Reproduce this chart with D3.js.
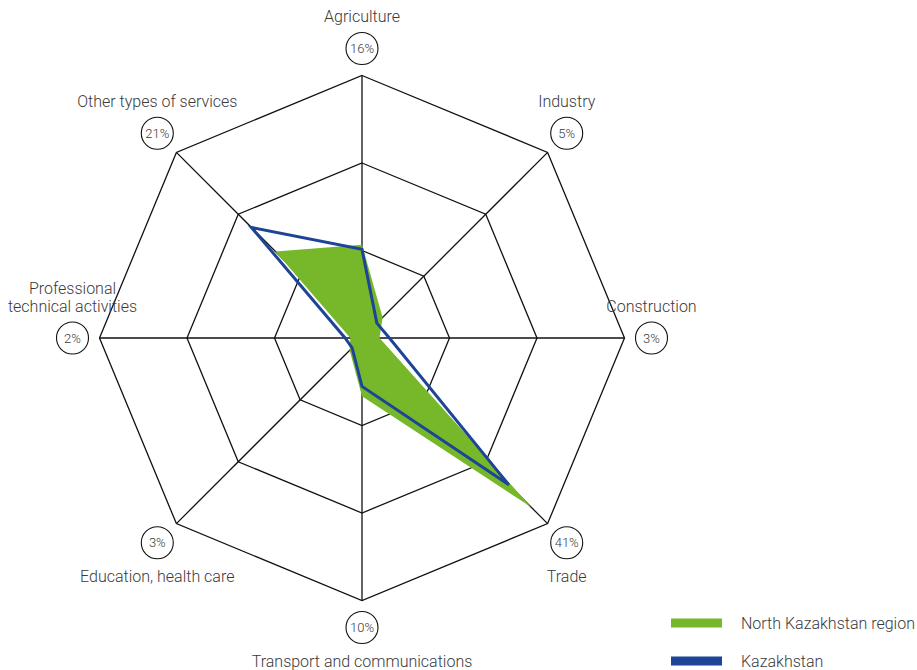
<!DOCTYPE html>
<html><head><meta charset="utf-8">
<script src="https://cdn.jsdelivr.net/npm/d3@7"></script>
<style>body{margin:0;background:#fff;} text{font-family:Roboto,"Noto Sans",sans-serif;font-weight:300;fill:#3a3a3a;}</style>
</head><body>
<svg id="chart" width="917" height="670"></svg>
<script>
const categories = ["Agriculture","Industry","Construction","Trade","Transport and communications","Education, health care","Professional\ntechnical activities","Other types of services"];
const regionValues = [16,5,3,41,10,3,2,21];
const kazakhstanValues = [15.2,3.6,4.7,35.6,8.3,2.4,2.9,26.8];
const valueLabels = ["16%","5%","3%","41%","10%","3%","2%","21%"];
const ringValues = [15,30,45];
const seriesNames = ["North Kazakhstan region","Kazakhstan"];
const seriesColors = ["#77b82a","#1d4497"];

const svg = d3.select("#chart");
const cx = 362, cy = 338, R = 262.5;
const r = d3.scaleLinear().domain([0,45]).range([0,R]);
const n = categories.length;
const ang = d3.scaleLinear().domain([0,n]).range([0,2*Math.PI]);
const pt = (i,v)=>[cx+r(v)*Math.sin(ang(i)), cy-r(v)*Math.cos(ang(i))];
const g = svg.append("g");

// rings
ringValues.forEach(rv=>{
  g.append("polygon").attr("points", d3.range(n).map(i=>pt(i,rv).join(",")).join(" "))
   .attr("fill","none").attr("stroke","#111").attr("stroke-width",1.3);
});
// spokes
d3.range(n).forEach(i=>{
  const p=pt(i,45);
  g.append("line").attr("x1",cx).attr("y1",cy).attr("x2",p[0]).attr("y2",p[1]).attr("stroke","#111").attr("stroke-width",1.3);
});
// series
const line = d3.line().curve(d3.curveLinearClosed);
g.append("path").attr("d", line(regionValues.map((v,i)=>pt(i,v)))).attr("fill",seriesColors[0]).attr("stroke","none");
g.append("path").attr("d", line(kazakhstanValues.map((v,i)=>pt(i,v)))).attr("fill","none").attr("stroke",seriesColors[1]).attr("stroke-width",3).attr("stroke-linejoin","miter");

// labels
const labelR = r(45)+27;
categories.forEach((c,i)=>{
  const a = ang(i);
  const x = cx+labelR*Math.sin(a), y = cy-labelR*Math.cos(a);
  g.append("circle").attr("cx",x).attr("cy",y).attr("r",16).attr("fill","#fff").attr("stroke","#111").attr("stroke-width",1.1);
  g.append("text").attr("x",x).attr("y",y).attr("text-anchor","middle").attr("dominant-baseline","central").style("font-size","13px").text(valueLabels[i]);
  const lines = c.split("\n");
  const bottom = Math.cos(a) < -0.1;
  const t = g.append("text").attr("text-anchor","middle").style("font-size","16px");
  lines.forEach((ln,k)=>{
    const yy = bottom ? y+34 : y-32-(lines.length-1-k)*18;
    t.append("tspan").attr("x",x).attr("y",yy).attr("dominant-baseline","central").text(ln);
  });
});

// legend
const lg = svg.append("g");
seriesNames.forEach((s,i)=>{
  const y = 623 + i*38;
  lg.append("rect").attr("x",671).attr("y",y-4.5).attr("width",51).attr("height",9).attr("fill",seriesColors[i]);
  lg.append("text").attr("x",741).attr("y",y).attr("dominant-baseline","central").style("font-size","16px").text(s);
});
</script>
</body></html>
